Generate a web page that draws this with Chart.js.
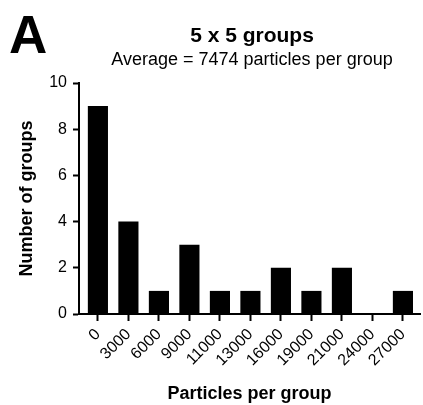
<!DOCTYPE html>
<html>
<head>
<meta charset="utf-8">
<script src="https://cdn.jsdelivr.net/npm/chart.js@4/dist/chart.umd.min.js"></script>
<style>
  html, body { margin: 0; padding: 0; background: #fff; }
  #wrap { width: 423px; height: 405px; position: relative; }
</style>
</head>
<body>
<div id="wrap"><canvas id="histChart" width="423" height="405"></canvas></div>
<script>
// Histogram data: particles per group bins and number of groups
const binLabels = ['0', '3000', '6000', '9000', '11000', '13000', '16000', '19000', '21000', '24000', '27000'];
const groupCounts = [9, 4, 1, 3, 1, 1, 2, 1, 2, 0, 1];
const yTickValues = [0, 2, 4, 6, 8, 10];

const panelLetter = 'A';
const titleText = '5 x 5 groups';
const subtitleText = 'Average = 7474 particles per group';

const FONT = 'Arial, "Liberation Sans", Helvetica, sans-serif';

// Draw panel letter + titles
const headerPlugin = {
  id: 'header',
  afterDraw(chart) {
    const ctx = chart.ctx;
    ctx.save();
    ctx.fillStyle = '#000';
    ctx.textBaseline = 'alphabetic';

    ctx.textAlign = 'left';
    ctx.font = 'bold 53px ' + FONT;
    ctx.fillText(panelLetter, 9, 53);

    ctx.textAlign = 'center';
    ctx.font = 'bold 21px ' + FONT;
    ctx.fillText(titleText, 252, 42);

    ctx.font = '18px ' + FONT;
    ctx.fillText(subtitleText, 252, 65);
    ctx.restore();
  }
};

const ctx = document.getElementById('histChart').getContext('2d');

new Chart(ctx, {
  type: 'bar',
  data: {
    datasets: [{
      data: groupCounts.map((v, i) => ({ x: i, y: v })),
      backgroundColor: '#000',
      borderWidth: 0,
      barPercentage: 0.66,
      categoryPercentage: 1
    }]
  },
  options: {
    responsive: false,
    animation: false,
    layout: {
      padding: { top: 83, left: 0, right: 3, bottom: 0 }
    },
    plugins: {
      legend: { display: false },
      tooltip: { enabled: false }
    },
    scales: {
      x: {
        type: 'linear',
        offset: false,
        min: -0.62,
        max: 10.56,
        afterBuildTicks: scale => {
          scale.ticks = binLabels.map((_, i) => ({ value: i }));
        },
        afterFit: scale => { scale.height = 91; },
        grid: {
          offset: false,
          drawOnChartArea: false,
          tickLength: 7,
          tickWidth: 2,
          tickColor: '#000'
        },
        border: { display: true, color: '#000', width: 2 },
        ticks: {
          autoSkip: false,
          minRotation: 45,
          maxRotation: 45,
          padding: 4,
          color: '#000',
          font: { family: FONT, size: 16 },
          callback: value => binLabels[value]
        },
        title: {
          display: true,
          text: 'Particles per group',
          color: '#000',
          font: { family: FONT, size: 18, weight: 'bold' },
          padding: { top: 0, bottom: 0 }
        }
      },
      y: {
        min: 0,
        max: 10,
        afterBuildTicks: scale => {
          scale.ticks = yTickValues.map(v => ({ value: v }));
        },
        afterFit: scale => { scale.width = 79; },
        grid: {
          drawOnChartArea: false,
          tickLength: 6,
          tickWidth: 2,
          tickColor: '#000'
        },
        border: { display: true, color: '#000', width: 2 },
        ticks: {
          padding: 6,
          color: '#000',
          font: { family: FONT, size: 16 }
        },
        title: {
          display: true,
          text: 'Number of groups',
          color: '#000',
          font: { family: FONT, size: 18, weight: 'bold' },
          padding: { top: 16, bottom: 0 }
        }
      }
    }
  },
  plugins: [headerPlugin]
});
</script>
</body>
</html>
